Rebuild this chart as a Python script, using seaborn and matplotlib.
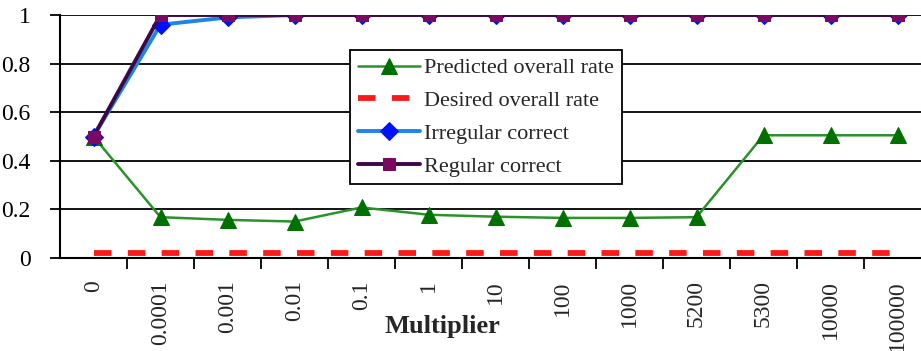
import pandas as pd
import seaborn as sns
import matplotlib.pyplot as plt
from matplotlib.ticker import FixedLocator

multipliers = ["0", "0.0001", "0.001", "0.01", "0.1", "1", "10", "100",
               "1000", "5200", "5300", "10000", "100000"]
predicted = [0.5, 0.168, 0.157, 0.150, 0.208, 0.178, 0.170, 0.165, 0.165,
             0.168, 0.505, 0.505, 0.505]
desired = [0.02] * 13
irregular = [0.5, 0.96, 0.99, 1.0, 1.0, 1.0, 1.0, 1.0, 1.0, 1.0, 1.0, 1.0, 1.0]
regular = [0.5, 1.0, 1.0, 1.0, 1.0, 1.0, 1.0, 1.0, 1.0, 1.0, 1.0, 1.0, 1.0]

df = pd.DataFrame({"Multiplier": multipliers, "pred": predicted, "des": desired,
                   "irr": irregular, "reg": regular})

sns.set_style("white")
plt.rcParams["font.family"] = ["Liberation Serif", "DejaVu Serif"]

fig = plt.figure(figsize=(9.21, 3.51), dpi=100)
ax = fig.add_axes([60 / 921, 93 / 351, 871 / 921, 243 / 351])

sns.lineplot(data=df, x="Multiplier", y="pred", ax=ax, color="#2a922a", lw=1.8,
             marker="^", markersize=11, markerfacecolor="#007000",
             markeredgecolor="#007000", label="Predicted overall rate")
sns.lineplot(data=df, x="Multiplier", y="des", ax=ax, color="#ff1a1a", lw=4.2,
             dashes=(3, 2.8), label="Desired overall rate")
sns.lineplot(data=df, x="Multiplier", y="irr", ax=ax, color="#1c86e6", lw=2.8,
             marker="D", markersize=9, markerfacecolor="#0010ff",
             markeredgecolor="#0010ff", label="Irregular correct")
sns.lineplot(data=df, x="Multiplier", y="reg", ax=ax, color="#3d0848", lw=2.8,
             marker="s", markersize=9, markerfacecolor="#7a0a60",
             markeredgecolor="#7a0a60", label="Regular correct")

ax.set_ylim(0, 1)
ax.set_xlim(-0.5, 12.5)
ax.set_yticks([0, 0.2, 0.4, 0.6, 0.8, 1])
ax.set_yticklabels(["0", "0.2", "0.4", "0.6", "0.8", "1"])
ax.yaxis.grid(True, color="black", lw=1.3)
ax.set_axisbelow(True)
for s in ["top", "right"]:
    ax.spines[s].set_visible(False)
for s in ["left", "bottom"]:
    ax.spines[s].set_color("black")
    ax.spines[s].set_linewidth(1.5)

ax.tick_params(axis="y", which="major", direction="out", length=7, width=1.3,
               labelsize=17, pad=14, left=True, colors="black")
ax.set_xticks(range(len(multipliers)))
ax.set_xticklabels(multipliers, rotation=90, fontsize=17, va="top")
ax.tick_params(axis="x", which="major", length=0, pad=16)
ax.xaxis.set_minor_locator(FixedLocator([i + 0.5 for i in range(12)]))
ax.tick_params(axis="x", which="minor", direction="out", length=8, width=1.3,
               bottom=True, color="black")

ax.set_xlabel("Multiplier", fontsize=19, fontweight="bold", va="center")
ax.xaxis.set_label_coords(382 / 871, -69 / 243)
ax.set_ylabel("")

leg = ax.legend(loc="upper left", bbox_to_anchor=(290 / 871, 1 - 35 / 243),
                fontsize=16, frameon=True, fancybox=False, framealpha=1,
                edgecolor="black", handlelength=2.8, handletextpad=0.2,
                labelspacing=0.55, borderpad=0.35, borderaxespad=0)
leg.get_frame().set_linewidth(1.3)

fig.savefig("out.png", dpi=100)
